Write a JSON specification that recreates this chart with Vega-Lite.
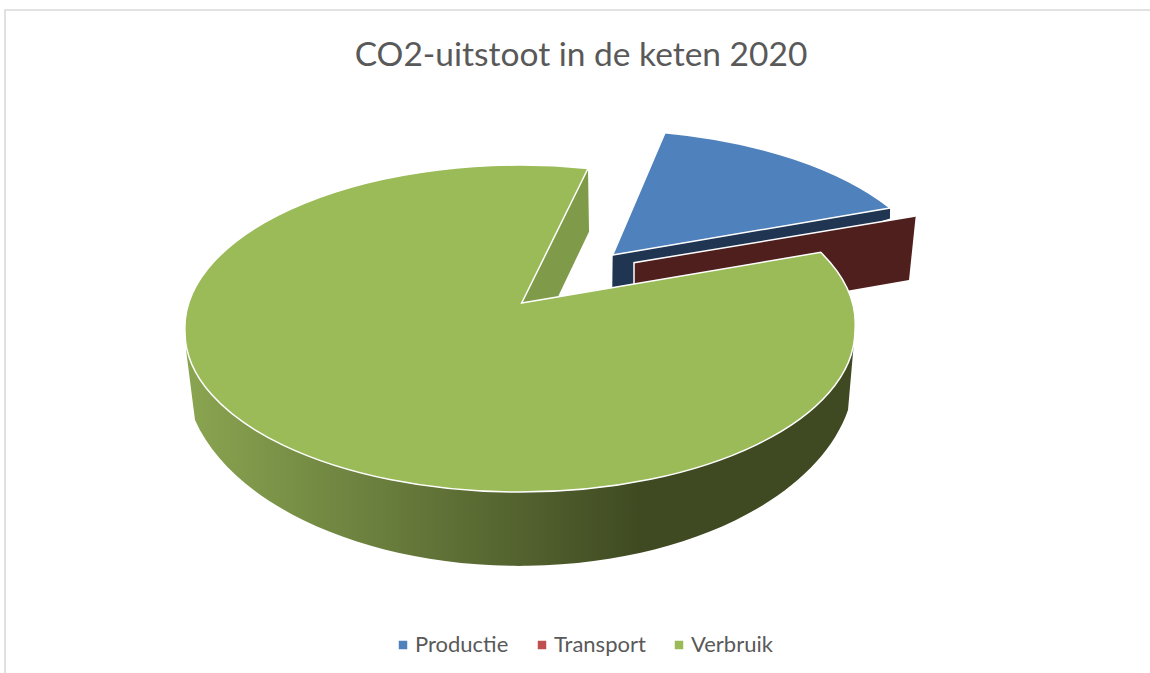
{
  "$schema": "https://vega.github.io/schema/vega-lite/v6.json",
  "width": 1150,
  "height": 673,
  "padding": 0,
  "autosize": {"type": "none"},
  "background": "white",
  "view": {"stroke": null},
  "title": {"text": "CO2-uitstoot in de keten 2020", "frame": "group", "anchor": "middle", "orient": "top", "offset": -73, "font": "Lato", "fontSize": 33.5, "fontWeight": "normal", "color": "#595959", "dx": 6},
  "data": {"values": [
    {"segment": "Productie", "share": 15},
    {"segment": "Transport", "share": 5},
    {"segment": "Verbruik", "share": 80}
  ]},
  "layer": [
    {
      "data": {"values": [{"element": "chart frame"}]},
      "mark": {"type": "point", "filled": false, "size": 4, "stroke": "#d9d9d9", "strokeWidth": 1.6, "opacity": 1, "shape": "M-570,337 L-570,-326.5 L575,-326.5"}
    },
    {
      "transform": [{"filter": "datum.segment === 'Productie'"}],
      "mark": {"type": "point", "filled": true, "size": 4, "opacity": 1, "fill": "#1f3552", "shape": "M37.7,-81.5 L315,-128.5 L315,-118 L37,-30 Z"}
    },
    {
      "transform": [{"filter": "datum.segment === 'Transport'"}],
      "mark": {"type": "point", "filled": true, "size": 4, "opacity": 1, "fill": "#4f1f1e", "shape": "M59,-73.8 L340.7,-120.5 L334,-56.5 L265,-44.5 L58,-36.5 Z"}
    },
    {
      "transform": [{"filter": "datum.segment === 'Transport'"}],
      "mark": {"type": "point", "filled": false, "size": 4, "opacity": 1, "stroke": "white", "strokeWidth": 1.5, "shape": "M59,-36 L59,-73.8 L340.7,-120.5"}
    },
    {
      "transform": [{"filter": "datum.segment === 'Verbruik'"}],
      "mark": {"type": "point", "filled": true, "size": 4, "opacity": 1, "fill": "#7f9a48", "shape": "M13,-167.5 L14,-104.8 L-17,-39.8 L-53.3,-33.5 Z"}
    },
    {
      "transform": [{"filter": "datum.segment === 'Verbruik'"}],
      "mark": {"type": "point", "filled": true, "size": 4, "opacity": 1, "fill": {"gradient": "linear", "x1": 0, "y1": 0, "x2": 1, "y2": 0, "stops": [{"offset": 0, "color": "#8aa551"}, {"offset": 0.68, "color": "#3f4a22"}, {"offset": 1, "color": "#3f4a22"}]}, "shape": "M-390,-1 L-388.3,18.5 L-380,83.5 A335 194 0 0 0 273,73.5 L279,5 Z"}
    },
    {
      "transform": [{"filter": "datum.segment === 'Productie'"}],
      "mark": {"type": "point", "filled": true, "size": 4, "opacity": 1, "fill": "#4f81bd", "stroke": "white", "strokeWidth": 1.5, "shape": "M37.7,-81.5 L90,-203.8 A340 165 0 0 1 315,-128.5 Z"}
    },
    {
      "transform": [{"filter": "datum.segment === 'Verbruik'"}],
      "mark": {"type": "point", "filled": true, "size": 4, "opacity": 1, "fill": "#9bbb59", "stroke": "white", "strokeWidth": 1.5, "shape": "M13,-168 A335 163 0 0 0 -390,-4 A335 160 0 0 0 -55,155.5 A335 162 0 0 0 280,-6.5 A335 162 0 0 0 245.7,-84.2 L-53.3,-33.5 Z"}
    },
    {
      "mark": {"type": "square", "size": 0, "opacity": 0},
      "encoding": {
        "color": {
          "field": "segment",
          "type": "nominal",
          "scale": {"domain": ["Productie", "Transport", "Verbruik"], "range": ["#4f81bd", "#c0504d", "#9bbb59"]},
          "legend": {
            "title": null,
            "orient": "none",
            "legendX": 392,
            "legendY": 634,
            "direction": "horizontal",
            "columns": 3,
            "symbolType": "square",
            "symbolSize": 72,
            "symbolStrokeWidth": 0,
            "symbolOpacity": 1,
            "labelFont": "Lato",
            "labelFontSize": 22,
            "labelColor": "#595959",
            "labelOffset": 1,
            "columnPadding": 22,
            "gridAlign": "each"
          }
        }
      }
    }
  ]
}
